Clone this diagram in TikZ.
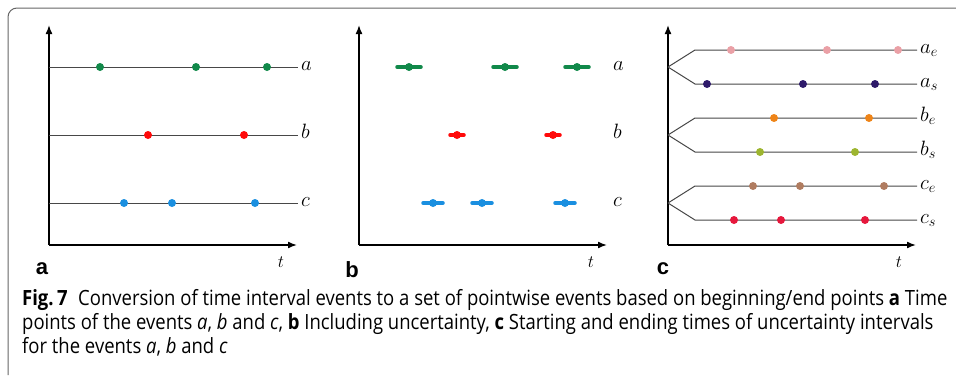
\documentclass[tikz,border=0pt]{standalone}
\usepackage{fontspec}
\newfontfamily\capfont[FakeStretch=0.88]{Open Sans}
\newfontfamily\panelfont{Liberation Sans}
\usetikzlibrary{arrows.meta}
\definecolor{evgreen}{HTML}{11894A}
\definecolor{evred}{HTML}{FF0A0A}
\definecolor{evblue}{HTML}{1A8FE0}
\definecolor{evpink}{HTML}{EAA0A6}
\definecolor{evindigo}{HTML}{2E1A6A}
\definecolor{evorange}{HTML}{EE8418}
\definecolor{evolive}{HTML}{9DB530}
\definecolor{evbrown}{HTML}{B07C60}
\definecolor{evcrimson}{HTML}{E6173C}
\definecolor{framegray}{HTML}{666666}
\begin{document}
\begin{tikzpicture}[x=1pt,y=-1pt,
  axis/.style={line width=1.6pt,-{Latex[length=9pt,width=7pt]}},
  tline/.style={line width=1pt,draw=black!72},
  dot/.style={circle,fill=#1,inner sep=0pt,minimum size=8pt},
  bar/.style={line width=3.5pt,draw=#1,line cap=round},
  lab/.style={font=\fontsize{21}{21}\selectfont,inner sep=3pt,text height=1.8ex,text depth=0.2ex},
  tlab/.style={font=\fontsize{18}{18}\selectfont,inner sep=0pt},
  panel/.style={font=\fontsize{22}{22}\panelfont\bfseries,inner sep=0pt},
  caption/.style={font=\fontsize{21}{21}\capfont,inner sep=0pt,anchor=base west}]
  \useasboundingbox (0,0) rectangle (956,375);
  \draw[framegray,line width=1pt,rounded corners=9pt] (8,375) -- (8,8) -- (956,8);

  % a: time points
  \coordinate (Ao) at (49,245);
  \draw[axis] (Ao) -- (49,25);
  \draw[axis] (Ao) -- (297,245);
  \node[tlab] (At) at (281,262) {$t$};
  \node[panel] (Ap) at (42,269) {a};
  \foreach \ev/\yy/\col/\xs in {a/67/evgreen/{100,196,267},b/135/evred/{148,244},c/203/evblue/{124,172,255}} {
    \coordinate (A\ev) at (49,\yy);
    \node[lab,anchor=west] (LA\ev) at (298,\yy) {$\ev$};
    \draw[tline] (A\ev) -- (LA\ev);
    \foreach \x [count=\i] in \xs \node[dot=\col] (A\ev\i) at (\x,\yy) {};
  }

  % b: with uncertainty
  \coordinate (Bo) at (359,245);
  \draw[axis] (Bo) -- (359,25);
  \draw[axis] (Bo) -- (607,245);
  \node[tlab] (Bt) at (591,262) {$t$};
  \node[panel] (Bp) at (352,270) {b};
  \foreach \ev/\yy/\col/\hw/\xs in {a/67/evgreen/12/{409,505,577},b/135/evred/7/{457,553},c/203/evblue/10/{433,482,565}} {
    \node[lab,anchor=west] (LB\ev) at (610,\yy) {$\ev$};
    \foreach \x [count=\i] in \xs {
      \draw[bar=\col] (\x-\hw,\yy) -- (\x+\hw,\yy);
      \node[dot=\col] (B\ev\i) at (\x,\yy) {};
    }
  }

  % c: starting and ending times
  \coordinate (Co) at (668,245);
  \draw[axis] (Co) -- (668,25);
  \draw[axis] (Co) -- (916,245);
  \node[tlab] (Ct) at (899,262) {$t$};
  \node[panel] (Cp) at (663,269) {c};
  \foreach \ev/\yy/\cole/\cols/\xe/\xs in {a/67/evpink/evindigo/{731,827,898}/{707,803,875},b/135/evorange/evolive/{774,869}/{760,855},c/203/evbrown/evcrimson/{753,800,884}/{734,781,865}} {
    \coordinate (C\ev) at (668,\yy);
    \node[lab,anchor=west] (LC\ev e) at (917,\yy-17) {$\ev_e$};
    \node[lab,anchor=west] (LC\ev s) at (917,\yy+17) {$\ev_s$};
    \draw[tline] (C\ev) -- ++(27,-17) -- (LC\ev e);
    \draw[tline] (C\ev) -- ++(27,17) -- (LC\ev s);
    \foreach \x [count=\i] in \xe \node[dot=\cole] (C\ev e\i) at (\x,\yy-17) {};
    \foreach \x [count=\i] in \xs \node[dot=\cols] (C\ev s\i) at (\x,\yy+17) {};
  }

  % caption
  \node[caption] (cap1) at (22,305) {\textbf{Fig.\,7}\enspace Conversion of time interval events to a set of pointwise events based on beginning/end points \textbf{a} Time};
  \node[caption] (cap2) at (22,329) {points of the events \textit{a}, \textit{b} and \textit{c}, \textbf{b} Including uncertainty, \textbf{c} Starting and ending times of uncertainty intervals};
  \node[caption] (cap3) at (22,353) {for the events \textit{a}, \textit{b} and \textit{c}};
\end{tikzpicture}
\end{document}
